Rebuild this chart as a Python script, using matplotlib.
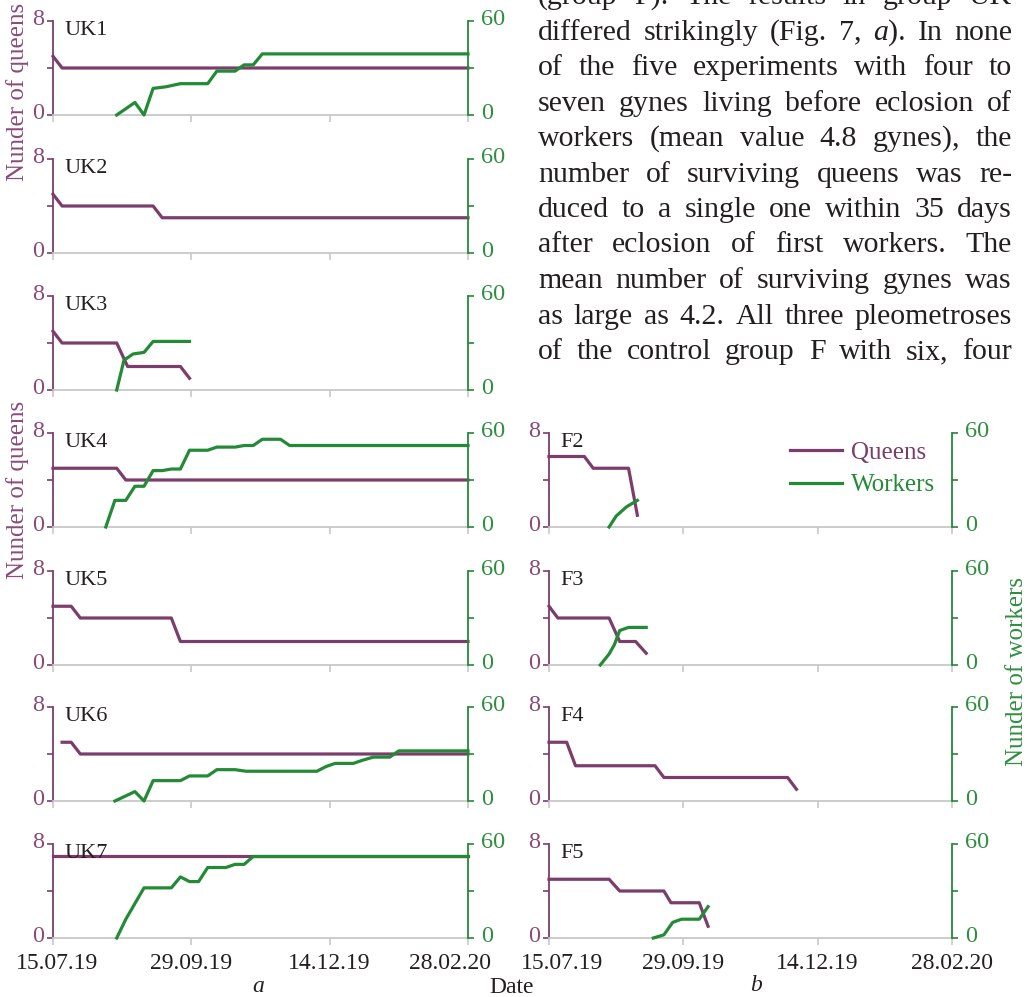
"""Queens / workers survival panels (UK1-UK7, F2-F5) with the running text block."""
import matplotlib
matplotlib.use('Agg')
import matplotlib.pyplot as plt
from matplotlib.transforms import ScaledTranslation

W, H = 1036, 997
DPI = 100

PURPLE     = '#7b3d6b'
PURPLE_TXT = '#8a4b7a'
GREEN      = '#238a36'
GREEN_TXT  = '#2f8e40'
AXIS_GREY  = '#c8c8c8'
INK        = '#231f20'

plt.rcParams['font.family'] = ['Liberation Serif', 'DejaVu Serif']

# x axis = days since 15.07.19
DATE_TICKS  = [0, 76, 152, 228]
DATE_LABELS = ['15.07.19', '29.09.19', '14.12.19', '28.02.20']

# ── data (day, value) ────────────────────────────────────────────────────────
UK1_Q_DAYS = [0, 5, 228]
UK1_Q      = [5, 4, 4]
UK1_W_DAYS = [35, 45, 50, 55, 62, 70, 85, 90, 100, 105, 110, 115, 228]
UK1_W      = [0, 8, 0, 17, 18, 20, 20, 28, 28, 32, 32, 39, 39]

UK2_Q_DAYS = [0, 5, 55, 60, 228]
UK2_Q      = [5, 4, 4, 3, 3]

UK3_Q_DAYS = [0, 5, 35, 41, 70, 75]
UK3_Q      = [5, 4, 4, 2, 2, 1]
UK3_W_DAYS = [35, 39, 44, 50, 55, 75]
UK3_W      = [0, 19, 23, 24, 31, 31]

UK4_Q_DAYS = [0, 35, 40, 228]
UK4_Q      = [5, 5, 4, 4]
UK4_W_DAYS = [29, 34, 40, 45, 50, 55, 60, 65, 70, 75, 85, 90, 100, 105, 110, 115, 125, 130, 228]
UK4_W      = [0, 17, 17, 26, 26, 36, 36, 37, 37, 49, 49, 51, 51, 52, 52, 56, 56, 52, 52]

UK5_Q_DAYS = [0, 10, 15, 65, 70, 228]
UK5_Q      = [5, 5, 4, 4, 2, 2]

UK6_Q_DAYS = [5, 10, 15, 228]
UK6_Q      = [5, 5, 4, 4]
UK6_W_DAYS = [34, 45, 50, 55, 70, 75, 85, 90, 100, 106, 145, 150, 155, 165, 170, 176, 185, 190, 228]
UK6_W      = [0, 6, 0, 13, 13, 16, 16, 20, 20, 19, 19, 22, 24, 24, 26, 28, 28, 32, 32]

UK7_Q_DAYS = [0, 228]
UK7_Q      = [7, 7]
UK7_W_DAYS = [35, 40, 45, 50, 65, 70, 75, 80, 85, 95, 100, 105, 110, 228]
UK7_W      = [0, 12, 22, 32, 32, 39, 36, 36, 45, 45, 47, 47, 52, 52]

F2_Q_DAYS = [0, 20, 25, 45, 50]
F2_Q      = [6, 6, 5, 5, 1]
F2_W_DAYS = [34, 38, 44, 50]
F2_W      = [0, 7, 13, 17]

F3_Q_DAYS = [0, 5, 34, 40, 49, 55]
F3_Q      = [5, 4, 4, 2, 2, 1]
F3_W_DAYS = [29, 34, 37, 40, 45, 55]
F3_W      = [0, 7, 13, 22, 24, 24]

F4_Q_DAYS = [0, 10, 15, 60, 65, 135, 140]
F4_Q      = [5, 5, 3, 3, 2, 2, 1]

F5_Q_DAYS = [0, 34, 40, 65, 69, 85, 90]
F5_Q      = [5, 5, 4, 4, 3, 3, 1]
F5_W_DAYS = [59, 65, 70, 75, 85, 90]
F5_W      = [0, 2, 10, 12, 12, 20]

BODY_LINES = [
    '(group F). The results in group UK',
    'differed strikingly (Fig. 7, _a_). In none',
    'of the five experiments with four to',
    'seven gynes living before eclosion of',
    'workers (mean value 4.8 gynes), the',
    'number of surviving queens was re-',
    'duced to a single one within 35 days',
    'after eclosion of first workers. The',
    'mean number of surviving gynes was',
    'as large as 4.2. All three pleometroses',
    'of the control group F with six, four',
]

# ── layout (pixels) ──────────────────────────────────────────────────────────
LEFT_COL  = (53, 468)
RIGHT_COL = (549, 952)
ROW_TOPS  = [21, 159, 296, 433, 571, 707, 844]
ROW_H     = 94

PANELS = [
    ('UK1', LEFT_COL, 0, UK1_Q_DAYS, UK1_Q, UK1_W_DAYS, UK1_W),
    ('UK2', LEFT_COL, 1, UK2_Q_DAYS, UK2_Q, None, None),
    ('UK3', LEFT_COL, 2, UK3_Q_DAYS, UK3_Q, UK3_W_DAYS, UK3_W),
    ('UK4', LEFT_COL, 3, UK4_Q_DAYS, UK4_Q, UK4_W_DAYS, UK4_W),
    ('UK5', LEFT_COL, 4, UK5_Q_DAYS, UK5_Q, None, None),
    ('UK6', LEFT_COL, 5, UK6_Q_DAYS, UK6_Q, UK6_W_DAYS, UK6_W),
    ('UK7', LEFT_COL, 6, UK7_Q_DAYS, UK7_Q, UK7_W_DAYS, UK7_W),
    ('F2',  RIGHT_COL, 3, F2_Q_DAYS, F2_Q, F2_W_DAYS, F2_W),
    ('F3',  RIGHT_COL, 4, F3_Q_DAYS, F3_Q, F3_W_DAYS, F3_W),
    ('F4',  RIGHT_COL, 5, F4_Q_DAYS, F4_Q, None, None),
    ('F5',  RIGHT_COL, 6, F5_Q_DAYS, F5_Q, F5_W_DAYS, F5_W),
]


def _shift(fig, dx_px, dy_px):
    return ScaledTranslation(dx_px / DPI, dy_px / DPI, fig.dpi_scale_trans)


def add_panel(fig, name, col, row, qd, q, wd, w):
    x0, x1 = col
    top = ROW_TOPS[row]
    ax = fig.add_axes([x0 / W, 1 - (top + ROW_H) / H, (x1 - x0) / W, ROW_H / H])
    ax2 = ax.twinx()

    lq, = ax.plot(qd, q, color=PURPLE, lw=2.3, clip_on=False)
    lw = None
    if wd is not None:
        lw, = ax2.plot(wd, w, color=GREEN, lw=2.3, clip_on=False)

    ax.set_xlim(0, 228)
    ax.set_ylim(0, 8)
    ax2.set_ylim(0, 60)
    ax.patch.set_visible(False)
    ax2.patch.set_visible(False)

    for s in ('top', 'right'):
        ax.spines[s].set_visible(False)
    for s in ('top', 'left', 'bottom'):
        ax2.spines[s].set_visible(False)
    ax.spines['left'].set_color(PURPLE)
    ax.spines['left'].set_linewidth(1.3)
    ax.spines['bottom'].set_color(AXIS_GREY)
    ax.spines['bottom'].set_linewidth(1.3)
    ax2.spines['right'].set_color(GREEN)
    ax2.spines['right'].set_linewidth(1.3)

    ax.set_yticks([0, 4, 8])
    ax.set_yticklabels(['0', '', '8'])
    ax2.set_yticks([0, 30, 60])
    ax2.set_yticklabels(['0', '', '60'])
    ax.tick_params(axis='y', colors=PURPLE, labelcolor=PURPLE_TXT, length=4,
                   width=1.2, pad=2.5, labelsize=17.5)
    ax2.tick_params(axis='y', colors=GREEN, labelcolor=GREEN_TXT, length=4,
                    width=1.2, pad=5.5, labelsize=17.5)
    for lab in ax.get_yticklabels() + ax2.get_yticklabels():
        lab.set_transform(lab.get_transform() + _shift(fig, 0, 4))

    ax.set_xticks(DATE_TICKS)
    ax.tick_params(axis='x', colors=AXIS_GREY, length=5, width=1.2, pad=6,
                   labelsize=17, labelcolor=INK)
    if row == 6:
        ax.set_xticklabels(DATE_LABELS)
        labs = ax.get_xticklabels()
        # the two inner labels sit a little off their ticks in the original
        if col == LEFT_COL:
            labs[0].set_transform(labs[0].get_transform() + _shift(fig, 4, 0))
            labs[-1].set_transform(labs[-1].get_transform() + _shift(fig, -18, 0))
        else:
            labs[0].set_transform(labs[0].get_transform() + _shift(fig, 13, 0))
    else:
        ax.set_xticklabels([])

    ax.text(0.028, 0.90, name, transform=ax.transAxes, fontsize=16,
            color=INK, va='center', ha='left', zorder=5)
    return ax, ax2, lq, lw


def _segments(word):
    # '_a_).' -> italic 'a' followed by ').'
    if word.startswith('_'):
        end = word.index('_', 1)
        return [(word[1:end], 'italic'), (word[end + 1:], 'normal')]
    return [(word, 'normal')]


def draw_body_text(fig, x0=538, x1=1012, base0=4, step=35.5, size=21.5):
    renderer = fig.canvas.get_renderer()
    for i, line in enumerate(BODY_LINES):
        y = 1 - (base0 + i * step) / H
        pieces = []
        for word in line.split(' '):
            pieces.append([fig.text(0, y, s, style=st, fontsize=size, color=INK,
                                    va='baseline', ha='left')
                           for s, st in _segments(word) if s])
        widths = [[t.get_window_extent(renderer).width for t in p] for p in pieces]
        total = sum(sum(ws) for ws in widths)
        gap = (x1 - x0 - total) / (len(pieces) - 1)
        x = x0
        for p, ws in zip(pieces, widths):
            for t, wdt in zip(p, ws):
                t.set_x(x / W)
                x += wdt
            x += gap


def main():
    fig = plt.figure(figsize=(W / DPI, H / DPI), dpi=DPI, facecolor='white')

    handles = {}
    for name, col, row, qd, q, wd, w in PANELS:
        ax, ax2, lq, lw = add_panel(fig, name, col, row, qd, q, wd, w)
        handles[name] = (ax2, lq, lw)

    ax2, lq, lw = handles['F2']
    ax2.legend([lq, lw], ['Queens', 'Workers'], loc='upper left',
               bbox_to_anchor=(0.597, 0.91), frameon=False, fontsize=18,
               handlelength=2.1, handletextpad=0.35, labelspacing=0.4,
               borderpad=0, borderaxespad=0, labelcolor='linecolor')

    # axis titles
    fig.text(18 / W, 1 - 92 / H, 'Nunder of queens', rotation=90, ha='center',
             va='center', color=PURPLE_TXT, fontsize=18)
    fig.text(18 / W, 1 - 490 / H, 'Nunder of queens', rotation=90, ha='center',
             va='center', color=PURPLE_TXT, fontsize=18)
    fig.text(1017 / W, 1 - 671 / H, 'Nunder of workers', rotation=90, ha='center',
             va='center', color=GREEN_TXT, fontsize=18)
    fig.text(512 / W, 1 - 987 / H, 'Date', ha='center', va='center',
             color=INK, fontsize=17)
    fig.text(258 / W, 1 - 986 / H, 'a', ha='center', va='center', style='italic',
             color=INK, fontsize=17)
    fig.text(756 / W, 1 - 985 / H, 'b', ha='center', va='center', style='italic',
             color=INK, fontsize=17)

    draw_body_text(fig)

    fig.savefig('out.png', dpi=DPI, facecolor='white')
    plt.close(fig)


if __name__ == '__main__':
    main()
